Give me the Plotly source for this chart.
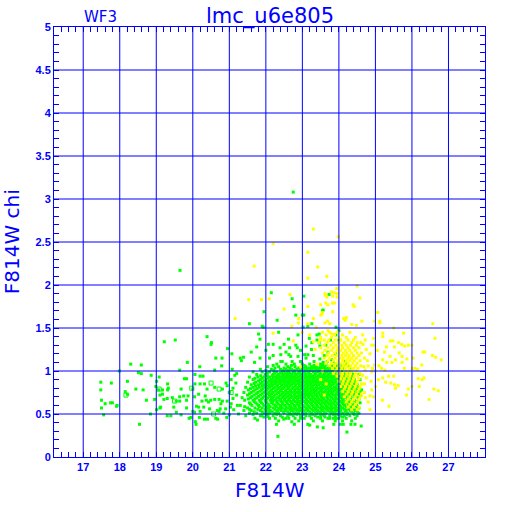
import plotly.graph_objects as go

# ---------------- data ----------------
x_ticks = [17, 18, 19, 20, 21, 22, 23, 24, 25, 26, 27]
y_ticks = [0, 0.5, 1, 1.5, 2, 2.5, 3, 3.5, 4, 4.5, 5]

green_sparse = [
    (17.48, 0.87), (17.48, 0.78), (17.5, 0.66), (17.5, 0.57), (17.56, 0.49), (17.6, 0.62), (17.75, 0.63),
    (17.77, 0.86), (17.8, 0.63), (17.91, 0.59), (17.93, 0.6), (17.99, 1.0),
    (18.15, 0.76), (18.21, 0.73), (18.21, 0.88), (18.3, 1.08), (18.44, 0.79), (18.51, 0.98),
    (18.54, 0.38), (18.59, 0.97), (18.59, 1.07), (18.64, 0.78), (18.73, 0.66), (18.84, 0.50), (18.86, 0.95),
    (18.95, 0.67), (18.99, 0.82), (19.01, 0.55), (19.01, 0.88), (19.06, 0.78), (19.08, 0.93), (19.1, 0.72),
    (19.1, 0.57), (19.12, 0.58), (19.17, 0.73), (19.17, 0.78), (19.21, 0.67), (19.22, 1.34), (19.3, 0.68),
    (19.3, 0.48), (19.31, 0.85), (19.33, 0.80), (19.31, 0.78), (19.4, 0.48), (19.44, 0.69), (19.48, 0.58),
    (19.52, 1.36), (19.55, 0.65), (19.55, 0.52), (19.64, 1.01), (19.64, 0.65), (19.64, 0.70), (19.65, 2.17),
    (19.68, 0.79), (19.68, 0.49), (19.75, 0.71), (19.77, 0.91), (19.83, 0.91), (19.83, 0.66), (19.83, 0.57),
    (19.85, 1.10), (19.87, 0.71), (19.9, 0.45), (19.95, 0.46), (20.0, 0.79), (20.0, 0.53), (20.05, 0.70),
    (20.05, 0.52), (20.06, 0.96), (20.06, 0.85), (20.07, 0.41), (20.09, 0.38), (20.1, 0.59), (20.16, 0.73),
    (20.16, 0.58), (20.18, 0.46), (20.19, 1.05), (20.2, 0.94), (20.2, 0.85), (20.2, 0.53), (20.25, 0.65),
    (20.28, 0.94), (20.3, 0.58), (20.32, 0.85), (20.32, 0.44), (20.34, 0.71), (20.37, 0.66), (20.39, 1.40),
    (20.39, 0.79), (20.4, 0.44), (20.43, 0.64), (20.46, 0.56), (20.49, 0.66), (20.51, 1.33), (20.5, 1.31),
    (20.6, 1.01), (20.6, 0.81), (20.6, 0.67), (20.63, 0.45), (20.63, 1.15), (20.67, 0.54), (20.68, 0.44),
    (20.72, 0.67), (20.72, 0.53), (20.75, 0.56), (20.77, 0.62), (20.79, 1.06), (20.8, 1.15), (20.81, 0.79),
    (20.81, 0.65), (20.85, 0.51), (20.9, 0.56), (20.91, 0.86), (20.93, 0.46), (20.94, 0.83), (20.94, 0.65),
    (20.95, 1.26), (21.0, 0.49), (21.03, 0.58), (21.0, 0.75), (21.05, 0.9), (21.1, 0.68), (21.05, 0.62),
    (21.1, 0.8), (21.15, 0.95), (21.12, 0.55), (21.08, 1.02), (21.2, 0.72), (21.18, 0.86), (21.22, 0.6),
    (21.25, 0.5), (21.2, 0.97),
]

green_upper = [
    (21.07, 1.20), (21.3, 1.15), (21.33, 1.12), (21.39, 1.16), (21.55, 1.55), (21.69, 1.10), (21.8, 1.43),
    (21.84, 1.37), (21.84, 1.15), (21.93, 1.51), (21.95, 1.69), (22.07, 1.31), (22.1, 1.15), (22.15, 1.91),
    (22.2, 1.31), (22.2, 1.18), (22.31, 1.59), (22.35, 1.45), (22.39, 1.27), (22.41, 1.19), (22.41, 1.11),
    (22.5, 1.31), (22.62, 1.37), (22.63, 1.19), (22.65, 1.27), (22.68, 1.17), (22.72, 1.84), (22.72, 1.11),
    (22.75, 3.08), (22.77, 1.75), (22.82, 1.65), (22.82, 1.30), (22.86, 1.27), (22.88, 1.42), (22.88, 1.17),
    (23.0, 1.65), (23.04, 1.65), (23.02, 1.51), (23.04, 1.87), (23.06, 1.19), (23.1, 1.29), (23.1, 1.15),
    (23.15, 1.52), (23.15, 1.19), (23.19, 1.38), (23.26, 1.55), (23.26, 1.33), (23.3, 1.18), (23.4, 1.42),
    (23.4, 1.36), (23.46, 1.43), (23.46, 1.33), (23.48, 1.29), (23.48, 1.14), (23.55, 1.70), (23.57, 1.71),
    (23.57, 1.10), (23.64, 1.30), (23.7, 1.22), (23.73, 1.89), (23.77, 1.36), (23.8, 1.13), (23.92, 1.42),
    (23.92, 1.51), (24.0, 1.47), (24.0, 1.36), (21.9, 1.52), (22.0, 1.24), (21.6, 1.22), (21.75, 1.28),
    (22.55, 1.22), (22.95, 1.24), (23.25, 1.25), (23.6, 1.18), (23.9, 1.2),
]

green_low = [
    (21.77, 0.43), (21.89, 0.48), (22.06, 0.47), (22.26, 0.45), (22.29, 0.38), (22.33, 0.24), (22.49, 0.44),
    (22.63, 0.45), (22.71, 0.41), (22.78, 0.38), (22.95, 0.45), (23.15, 0.38), (23.2, 0.37), (23.41, 0.35),
    (23.57, 0.34), (23.75, 0.45), (23.86, 0.38), (23.93, 0.45), (24.04, 0.38), (24.12, 0.38), (24.22, 0.29),
    (24.33, 0.38), (24.44, 0.38), (24.61, 0.36),
]

green_open = [
    (18.17, 0.72), (19.08, 0.79), (19.5, 0.65), (19.97, 0.80), (20.5, 0.86), (20.72, 0.79), (20.57, 0.50),
    (21.05, 0.75), (22.55, 0.95), (23.3, 1.02),
]

green_core_y = [0.42, 0.45, 0.48, 0.51, 0.54, 0.57, 0.60, 0.63, 0.66, 0.69, 0.72, 0.75, 0.78, 0.81,
                0.84, 0.87, 0.90, 0.93, 0.96, 0.99, 1.02, 1.05, 1.08, 1.11]
green_core_x = [
    [22.35, 22.9, 23.3, 23.55, 23.9, 24.1, 24.35],
    [21.7, 22.1, 22.55, 22.8, 23.05, 23.25, 23.5, 23.7, 23.85, 24.0, 24.2, 24.45],
    [21.45, 21.85, 22.2, 22.4, 22.6, 22.75, 22.95, 23.1, 23.2, 23.35, 23.5, 23.6, 23.75, 23.9, 24.05, 24.15, 24.3, 24.5],
    [21.55, 21.75, 21.95, 22.1, 22.25, 22.35, 22.5, 22.65, 22.8, 22.9, 23.0, 23.1, 23.25, 23.4, 23.5, 23.65, 23.8, 23.9, 24.0, 24.1, 24.25, 24.4, 24.55],
    [21.4, 21.6, 21.85, 22.0, 22.12, 22.3, 22.42, 22.55, 22.7, 22.85, 22.95, 23.05, 23.15, 23.3, 23.42, 23.55, 23.7, 23.8, 23.95, 24.05, 24.2, 24.32, 24.45],
    [21.5, 21.7, 21.9, 22.05, 22.2, 22.35, 22.45, 22.6, 22.72, 22.82, 22.98, 23.1, 23.2, 23.35, 23.48, 23.6, 23.72, 23.85, 23.98, 24.1, 24.25, 24.38, 24.55],
    [21.3, 21.62, 21.8, 21.95, 22.08, 22.25, 22.4, 22.52, 22.65, 22.78, 22.9, 23.02, 23.15, 23.28, 23.4, 23.52, 23.65, 23.78, 23.9, 24.02, 24.15, 24.3, 24.48],
    [21.55, 21.72, 21.88, 22.02, 22.15, 22.3, 22.45, 22.58, 22.7, 22.85, 22.95, 23.08, 23.22, 23.35, 23.45, 23.58, 23.7, 23.82, 23.95, 24.08, 24.2, 24.35, 24.58],
    [21.42, 21.65, 21.82, 21.98, 22.12, 22.22, 22.38, 22.5, 22.62, 22.75, 22.88, 23.0, 23.12, 23.25, 23.38, 23.5, 23.62, 23.75, 23.88, 24.0, 24.12, 24.25, 24.42],
    [21.35, 21.58, 21.75, 21.92, 22.05, 22.18, 22.32, 22.45, 22.55, 22.68, 22.8, 22.92, 23.05, 23.18, 23.3, 23.42, 23.55, 23.68, 23.8, 23.92, 24.05, 24.18, 24.32, 24.52],
    [21.5, 21.68, 21.85, 22.0, 22.1, 22.25, 22.4, 22.52, 22.65, 22.78, 22.9, 23.0, 23.1, 23.22, 23.35, 23.48, 23.6, 23.72, 23.85, 23.98, 24.1, 24.22, 24.38, 24.6],
    [21.4, 21.6, 21.78, 21.95, 22.08, 22.2, 22.35, 22.48, 22.6, 22.72, 22.85, 22.95, 23.08, 23.2, 23.32, 23.45, 23.58, 23.7, 23.82, 23.95, 24.08, 24.2, 24.35, 24.5],
    [21.52, 21.7, 21.88, 22.02, 22.15, 22.3, 22.42, 22.55, 22.68, 22.8, 22.92, 23.05, 23.15, 23.28, 23.4, 23.52, 23.65, 23.78, 23.9, 24.02, 24.15, 24.28, 24.45, 24.62],
    [21.45, 21.65, 21.82, 21.98, 22.1, 22.25, 22.38, 22.5, 22.62, 22.75, 22.88, 23.0, 23.12, 23.25, 23.38, 23.5, 23.62, 23.75, 23.88, 24.0, 24.12, 24.25, 24.4, 24.55],
    [21.6, 21.8, 21.95, 22.08, 22.2, 22.32, 22.45, 22.58, 22.7, 22.82, 22.95, 23.08, 23.2, 23.32, 23.45, 23.58, 23.7, 23.82, 23.95, 24.08, 24.22, 24.35, 24.5],
    [21.5, 21.72, 21.9, 22.05, 22.18, 22.3, 22.42, 22.55, 22.68, 22.8, 22.92, 23.05, 23.18, 23.3, 23.42, 23.55, 23.68, 23.8, 23.92, 24.05, 24.18, 24.3, 24.45],
    [21.65, 21.85, 22.0, 22.15, 22.28, 22.4, 22.52, 22.65, 22.78, 22.9, 23.02, 23.15, 23.28, 23.4, 23.52, 23.65, 23.78, 23.9, 24.02, 24.15, 24.28, 24.42, 24.58],
    [21.55, 21.78, 21.95, 22.1, 22.25, 22.38, 22.5, 22.62, 22.75, 22.88, 23.0, 23.12, 23.25, 23.38, 23.5, 23.62, 23.75, 23.88, 24.0, 24.12, 24.25, 24.4],
    [21.75, 21.98, 22.2, 22.35, 22.48, 22.6, 22.72, 22.85, 22.98, 23.1, 23.22, 23.35, 23.48, 23.6, 23.72, 23.85, 23.98, 24.1, 24.22, 24.38, 24.55],
    [21.65, 21.9, 22.1, 22.3, 22.45, 22.6, 22.75, 22.9, 23.02, 23.15, 23.3, 23.42, 23.55, 23.68, 23.8, 23.92, 24.05, 24.2, 24.35],
    [21.85, 22.15, 22.4, 22.55, 22.7, 22.85, 23.0, 23.12, 23.25, 23.4, 23.52, 23.65, 23.78, 23.9, 24.02, 24.15, 24.3],
    [22.05, 22.35, 22.6, 22.8, 23.1, 23.25, 23.38, 23.5, 23.62, 23.75, 23.88, 24.0, 24.12, 24.28],
    [22.3, 22.55, 22.78, 23.0, 23.2, 23.5, 23.65, 23.8, 23.92, 24.05, 24.2],
    [22.45, 22.95, 23.32, 23.68, 23.85, 24.15],
]

green_core2_y = [0.465, 0.495, 0.525, 0.555, 0.585, 0.615, 0.645, 0.675, 0.705, 0.735, 0.765,
                 0.795, 0.825, 0.855, 0.885, 0.915, 0.945, 0.975, 1.005, 1.035, 1.065]
green_core2_x = [
    [21.95, 22.45, 22.98, 23.42, 23.62, 24.1],
    [21.65, 22.02, 22.3, 22.68, 22.85, 23.05, 23.28, 23.58, 23.85, 23.98, 24.22, 24.42],
    [21.68, 21.9, 22.05, 22.18, 22.32, 22.48, 22.6, 22.75, 22.88, 23.02, 23.2, 23.35, 23.47, 23.6, 23.75, 23.88, 24.02, 24.18, 24.35, 24.5],
    [21.55, 21.78, 21.98, 22.08, 22.25, 22.38, 22.52, 22.66, 22.78, 22.9, 23.0, 23.12, 23.26, 23.38, 23.52, 23.65, 23.78, 23.9, 24.02, 24.15, 24.28, 24.42],
    [21.42, 21.82, 22.0, 22.12, 22.28, 22.42, 22.55, 22.68, 22.8, 22.92, 23.05, 23.18, 23.3, 23.42, 23.55, 23.68, 23.8, 23.92, 24.05, 24.2, 24.35, 24.5],
    [21.58, 21.76, 21.92, 22.06, 22.2, 22.34, 22.47, 22.6, 22.74, 22.86, 22.98, 23.12, 23.25, 23.37, 23.5, 23.62, 23.74, 23.86, 23.98, 24.12, 24.26, 24.4],
    [21.68, 21.85, 22.0, 22.18, 22.3, 22.42, 22.55, 22.68, 22.8, 22.92, 23.04, 23.16, 23.3, 23.42, 23.54, 23.66, 23.78, 23.9, 24.04, 24.16, 24.3, 24.48],
    [21.52, 21.7, 21.88, 22.02, 22.15, 22.28, 22.4, 22.52, 22.64, 22.76, 22.86, 22.98, 23.1, 23.22, 23.34, 23.46, 23.58, 23.7, 23.84, 23.96, 24.1, 24.24, 24.38, 24.55],
    [21.62, 21.8, 21.96, 22.12, 22.22, 22.36, 22.48, 22.6, 22.72, 22.84, 22.96, 23.06, 23.16, 23.28, 23.4, 23.52, 23.64, 23.76, 23.9, 24.02, 24.14, 24.28, 24.45],
    [21.55, 21.74, 21.9, 22.04, 22.16, 22.3, 22.44, 22.56, 22.68, 22.8, 22.92, 23.04, 23.14, 23.26, 23.4, 23.54, 23.66, 23.78, 23.92, 24.04, 24.16, 24.3, 24.44, 24.56],
    [21.66, 21.84, 21.98, 22.12, 22.26, 22.4, 22.54, 22.66, 22.78, 22.9, 23.02, 23.12, 23.24, 23.36, 23.5, 23.62, 23.74, 23.86, 23.98, 24.12, 24.24, 24.4, 24.58],
    [21.58, 21.76, 21.92, 22.06, 22.2, 22.34, 22.46, 22.6, 22.72, 22.84, 22.96, 23.08, 23.2, 23.32, 23.44, 23.56, 23.7, 23.82, 23.94, 24.06, 24.2, 24.34, 24.5],
    [21.72, 21.9, 22.04, 22.16, 22.3, 22.42, 22.54, 22.66, 22.8, 22.92, 23.04, 23.16, 23.28, 23.4, 23.54, 23.66, 23.78, 23.92, 24.04, 24.16, 24.3, 24.46],
    [21.68, 21.86, 22.0, 22.14, 22.26, 22.38, 22.5, 22.62, 22.74, 22.88, 23.0, 23.12, 23.24, 23.38, 23.5, 23.62, 23.74, 23.86, 24.0, 24.12, 24.26, 24.4],
    [21.8, 21.96, 22.1, 22.24, 22.36, 22.48, 22.6, 22.72, 22.86, 22.98, 23.1, 23.22, 23.36, 23.48, 23.6, 23.72, 23.84, 23.98, 24.1, 24.24, 24.38],
    [21.7, 21.9, 22.06, 22.2, 22.32, 22.46, 22.58, 22.7, 22.82, 22.96, 23.08, 23.2, 23.32, 23.46, 23.58, 23.7, 23.82, 23.96, 24.08, 24.2, 24.35],
    [21.86, 22.04, 22.18, 22.3, 22.44, 22.56, 22.68, 22.8, 22.94, 23.06, 23.18, 23.3, 23.44, 23.56, 23.68, 23.8, 23.94, 24.06, 24.18, 24.32],
    [22.04, 22.24, 22.4, 22.54, 22.66, 22.8, 22.92, 23.06, 23.18, 23.36, 23.5, 23.62, 23.76, 23.88, 24.0, 24.14, 24.28],
    [22.0, 22.22, 22.48, 22.62, 22.78, 22.94, 23.08, 23.2, 23.34, 23.46, 23.6, 23.72, 23.84, 23.96, 24.1],
    [22.25, 22.5, 22.66, 22.9, 23.04, 23.18, 23.32, 23.45, 23.58, 23.7, 23.84, 23.96, 24.08],
    [22.2, 22.7, 23.05, 23.32, 23.56, 23.82, 23.95],
]

yellow_core_y = [1.45, 1.42, 1.39, 1.36, 1.33, 1.30, 1.27, 1.24, 1.21, 1.18, 1.15, 1.12, 1.09, 1.06,
                 1.03, 1.00, 0.97, 0.94, 0.91, 0.88, 0.85, 0.82, 0.79, 0.76, 0.73, 0.70, 0.67, 0.64,
                 0.61, 0.58, 0.55]
yellow_core_x = [
    [23.55, 23.75, 23.95, 24.3],
    [23.65, 23.88, 24.1],
    [23.5, 23.8, 24.0, 24.2, 24.45],
    [23.6, 23.72, 23.9, 24.05, 24.25, 24.4],
    [23.45, 23.68, 23.85, 24.0, 24.15, 24.35, 24.5],
    [23.6, 23.78, 23.92, 24.08, 24.2, 24.32, 24.48],
    [23.5, 23.7, 23.85, 23.98, 24.1, 24.25, 24.4, 24.55],
    [23.62, 23.8, 23.95, 24.05, 24.18, 24.3, 24.45],
    [23.55, 23.72, 23.88, 24.0, 24.12, 24.22, 24.35, 24.5, 24.62],
    [23.68, 23.82, 23.95, 24.08, 24.18, 24.28, 24.4, 24.55],
    [23.6, 23.75, 23.9, 24.02, 24.12, 24.25, 24.35, 24.48],
    [23.7, 23.85, 23.98, 24.1, 24.2, 24.3, 24.42, 24.58],
    [23.65, 23.8, 23.92, 24.05, 24.15, 24.25, 24.38, 24.5],
    [23.75, 23.88, 24.0, 24.12, 24.22, 24.32, 24.45, 24.6],
    [23.82, 23.95, 24.08, 24.18, 24.28, 24.4, 24.52],
    [23.9, 24.02, 24.15, 24.25, 24.35, 24.48],
    [23.85, 24.0, 24.1, 24.22, 24.32, 24.45, 24.58],
    [23.95, 24.08, 24.2, 24.3, 24.42, 24.52],
    [24.05, 24.15, 24.28, 24.4, 24.55],
    [24.0, 24.12, 24.25, 24.38, 24.5],
    [24.1, 24.22, 24.35, 24.48, 24.62],
    [24.05, 24.18, 24.3, 24.45, 24.58],
    [24.15, 24.28, 24.42, 24.55],
    [24.1, 24.25, 24.38, 24.52],
    [24.2, 24.35, 24.48, 24.62],
    [24.15, 24.3, 24.45, 24.58],
    [24.25, 24.4, 24.55],
    [24.2, 24.35, 24.5],
    [24.3, 24.45],
    [24.25, 24.4, 24.55],
    [24.35, 24.5],
]

yellow_sparse = [
    (21.16, 1.61), (21.53, 1.83), (21.68, 2.22), (21.88, 1.83), (22.09, 1.84), (22.2, 1.44), (22.2, 2.48),
    (22.5, 1.72), (22.66, 1.89), (22.71, 1.52), (22.89, 1.56), (22.9, 1.61), (23.15, 2.38), (23.15, 2.08),
    (23.15, 1.75), (23.15, 1.55), (23.3, 2.65), (23.3, 1.61), (23.3, 1.34), (23.38, 1.51), (23.42, 2.21),
    (23.5, 1.77), (23.5, 1.36), (23.51, 1.65), (23.53, 1.66), (23.55, 1.68), (23.62, 1.90), (23.62, 1.56),
    (23.63, 1.88), (23.64, 1.79), (23.67, 2.10), (23.67, 1.86), (23.69, 1.58), (23.7, 1.77), (23.7, 1.47),
    (23.75, 1.55), (23.8, 1.92), (23.8, 1.43), (23.83, 1.87), (23.83, 1.79), (23.83, 1.69), (23.87, 1.91),
    (23.88, 1.79), (23.94, 1.96), (23.95, 1.90), (23.95, 1.86), (23.99, 2.56), (24.13, 1.61), (24.17, 1.59),
    (24.2, 1.62), (24.35, 1.54), (24.39, 1.77), (24.42, 1.75), (24.48, 1.53), (24.5, 1.99), (24.57, 1.85),
    (24.63, 1.58), (24.97, 1.58), (25.06, 1.68), (25.12, 1.58), (25.12, 1.56), (25.5, 1.50), (25.2, 1.44),
    (25.2, 1.40), (26.57, 1.55), (26.63, 1.38), (25.77, 1.44), (25.41, 1.35), (25.48, 1.35), (25.63, 1.33),
    (25.72, 1.31), (25.8, 1.29), (25.9, 1.30), (26.0, 1.30), (25.52, 1.28), (25.3, 1.28), (24.97, 1.30),
    (24.72, 1.36), (24.6, 1.33), (24.66, 1.31), (26.3, 1.22), (26.35, 1.22), (26.56, 1.18), (26.65, 1.16),
    (26.8, 1.13), (26.27, 1.07), (26.03, 1.15), (25.65, 1.21), (25.73, 1.17), (25.86, 1.14), (25.55, 1.13),
    (25.4, 1.17), (25.25, 1.22), (25.2, 1.13), (25.31, 1.1), (25.45, 1.1), (25.73, 1.1), (25.79, 1.03),
    (26.0, 1.03), (26.08, 1.03), (26.15, 1.02), (25.1, 1.06), (24.98, 1.07), (25.17, 1.03), (25.26, 1.01),
    (24.92, 1.03), (24.8, 1.06), (24.72, 1.01), (24.9, 0.99), (25.0, 1.0), (25.36, 0.94), (25.5, 0.94),
    (25.08, 0.90), (25.2, 0.92), (25.28, 0.87), (25.42, 0.86), (25.52, 0.84), (25.62, 0.83), (25.9, 0.79),
    (26.17, 0.91), (26.33, 0.92), (26.2, 0.82), (26.6, 0.79), (26.72, 0.77), (25.85, 0.72), (25.55, 0.80),
    (24.95, 0.70), (24.85, 0.71), (24.7, 0.75), (24.72, 0.69), (25.37, 0.59), (25.19, 0.66), (24.85, 0.55),
    (24.8, 0.64), (26.47, 0.67), (26.28, 0.90), (26.0, 0.82), (24.65, 1.42), (24.75, 1.25), (24.85, 1.2),
    (24.7, 1.15), (24.9, 1.3), (24.78, 1.12), (25.05, 1.24), (24.95, 1.38), (24.68, 1.05), (24.88, 0.88),
    (24.75, 0.92), (24.65, 0.95), (25.0, 0.82), (24.7, 0.85), (24.9, 0.78), (22.75, 1.35), (23.0, 1.45),
    (23.35, 1.25), (23.2, 1.42), (22.95, 1.05), (23.4, 1.08), (23.55, 1.0), (23.5, 0.9), (23.65, 0.85),
    (23.6, 0.72),
]

GREEN = "#00FF00"
YELLOW = "#FFFF00"
BLUE = "#0000FF"

# ---------------- assemble ----------------
gx = [p[0] for p in green_sparse + green_upper + green_low]
gy = [p[1] for p in green_sparse + green_upper + green_low]
for yv, row in list(zip(green_core_y, green_core_x)) + list(zip(green_core2_y, green_core2_x)):
    gx += row
    gy += [yv] * len(row)

yx = [p[0] for p in yellow_sparse]
yy = [p[1] for p in yellow_sparse]
for yv, row in zip(yellow_core_y, yellow_core_x):
    yx += row
    yy += [yv] * len(row)

fig = go.Figure()
fig.add_trace(go.Scatter(x=gx, y=gy, mode="markers",
                         marker=dict(symbol="square", size=3, color=GREEN, line=dict(width=0))))
fig.add_trace(go.Scatter(x=[p[0] for p in green_open], y=[p[1] for p in green_open], mode="markers",
                         marker=dict(symbol="square-open", size=4, color=GREEN, line=dict(width=1, color=GREEN))))
fig.add_trace(go.Scatter(x=yx, y=yy, mode="markers",
                         marker=dict(symbol="square", size=3, color=YELLOW, line=dict(width=0))))

tickfont = dict(family="Liberation Sans", size=11, color=BLUE, weight="bold")

fig.update_xaxes(range=[16.2, 28], tickmode="array", tickvals=x_ticks,
                 ticktext=[str(v) for v in x_ticks], showgrid=False, zeroline=False,
                 ticks="inside", ticklen=5, tickcolor=BLUE, tickwidth=1,
                 showline=True, linecolor=BLUE, linewidth=1, mirror="allticks",
                 minor=dict(tickmode="linear", tick0=0, dtick=0.2, ticks="inside", ticklen=5,
                            tickcolor=BLUE, tickwidth=1, showgrid=False),
                 tickfont=tickfont)
fig.update_yaxes(range=[0, 5], tickmode="array", tickvals=y_ticks,
                 ticktext=[("%g" % v) for v in y_ticks], showgrid=False, zeroline=False,
                 ticks="inside", ticklen=5, tickcolor=BLUE, tickwidth=1,
                 showline=True, linecolor=BLUE, linewidth=1, mirror="allticks",
                 minor=dict(tickmode="linear", tick0=0, dtick=0.1, ticks="inside", ticklen=5,
                            tickcolor=BLUE, tickwidth=1, showgrid=False),
                 tickfont=tickfont)

# grid lines drawn above the points, at the tick values
for v in x_ticks:
    fig.add_shape(type="line", x0=v, x1=v, y0=0, y1=1, xref="x", yref="paper",
                  line=dict(color=BLUE, width=1), layer="above")
for v in y_ticks[1:-1]:
    fig.add_shape(type="line", x0=0, x1=1, y0=v, y1=v, xref="paper", yref="y",
                  line=dict(color=BLUE, width=1), layer="above")

fig.add_annotation(text="lmc_u6e805", x=0.501, y=1.024, xref="paper", yref="paper",
                   xanchor="center", yanchor="middle", showarrow=False,
                   font=dict(family="DejaVu Sans", size=21, color=BLUE))
fig.add_annotation(text="WF3", x=0.107, y=1.023, xref="paper", yref="paper",
                   xanchor="center", yanchor="middle", showarrow=False,
                   font=dict(family="DejaVu Sans", size=15, color=BLUE))
fig.add_annotation(text="F814W", x=0.501, y=-0.077, xref="paper", yref="paper",
                   xanchor="center", yanchor="middle", showarrow=False,
                   font=dict(family="DejaVu Sans", size=20, color=BLUE))
fig.add_annotation(text="F814W chi", x=-0.097, y=0.5, xref="paper", yref="paper",
                   xanchor="center", yanchor="middle", showarrow=False, textangle=-90,
                   font=dict(family="DejaVu Sans", size=20, color=BLUE))

fig.update_layout(width=512, height=512, margin=dict(l=54, r=27, t=27, b=55, pad=0),
                  paper_bgcolor="white", plot_bgcolor="white", showlegend=False)

# remove the browser's default 8px page margin so the figure starts at the window corner
fig.write_html("out.html", config={"displayModeBar": False},
               post_script="document.body.style.margin='0';document.body.style.overflow='hidden';")
